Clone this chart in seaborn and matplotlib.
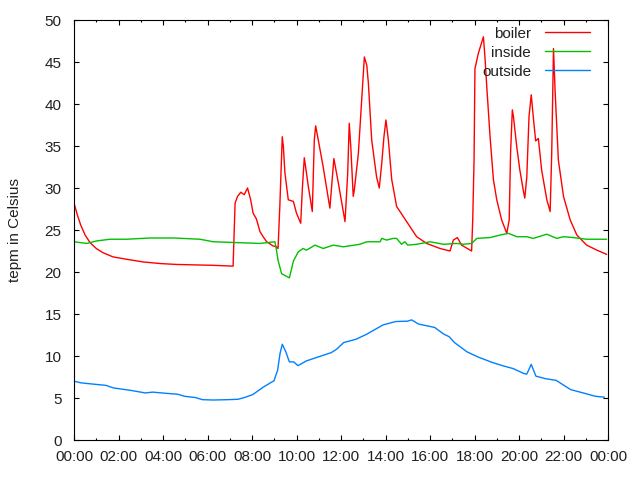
import numpy as np
import pandas as pd
import matplotlib
matplotlib.use("Agg")
import matplotlib.pyplot as plt
import seaborn as sns

# ---- data (hours of day, temperature in Celsius) ----
boiler_h = [0.0, 0.15, 0.3, 0.5, 0.72, 1.0, 1.3, 1.75, 2.4, 3.1, 3.9, 4.6, 5.35, 6.2, 7.15,
            7.24, 7.35, 7.5, 7.65, 7.8, 7.94, 8.05, 8.2, 8.36, 8.5, 8.66, 8.95, 9.1, 9.17,
            9.25, 9.36, 9.41, 9.48, 9.63, 9.86, 10.0, 10.19, 10.26, 10.35, 10.41, 10.53,
            10.71, 10.8, 10.86, 10.98, 11.2, 11.5, 11.68, 11.88, 12.18, 12.3, 12.37, 12.44,
            12.55, 12.6, 12.78, 12.93, 13.05, 13.16, 13.23, 13.38, 13.6, 13.72, 13.83, 13.93,
            14.02, 14.13, 14.28, 14.5, 14.95, 15.4, 15.85, 16.45, 16.9, 17.05, 17.23, 17.42,
            17.87, 17.92, 17.98, 18.02, 18.17, 18.4, 18.47, 18.55, 18.7, 18.85, 19.0, 19.22,
            19.45, 19.56, 19.62, 19.7, 19.75, 19.9, 20.04, 20.2, 20.26, 20.35, 20.45, 20.55,
            20.64, 20.75, 20.87, 21.02, 21.25, 21.4, 21.47, 21.55, 21.62, 21.77, 22.0, 22.3,
            22.6, 23.04, 23.5, 23.94]
boiler_t = [28.2, 26.8, 25.6, 24.4, 23.5, 22.8, 22.3, 21.8, 21.5, 21.2, 21.0, 20.9, 20.85, 20.8, 20.7,
            28.2, 29.0, 29.5, 29.2, 30.0, 28.6, 27.0, 26.3, 24.8, 24.2, 23.6, 23.1, 23.0, 22.8,
            27.8, 36.1, 34.9, 31.8, 28.6, 28.4, 27.0, 25.8, 29.8, 33.6, 32.5, 30.2,
            27.2, 35.7, 37.4, 35.7, 32.5, 27.6, 33.5, 30.6, 26.0, 31.7, 37.7, 34.9,
            29.0, 29.8, 34.1, 40.5, 45.6, 44.6, 42.5, 35.7, 31.3, 30.0, 32.9, 36.1,
            38.1, 35.7, 31.0, 27.8, 26.0, 24.2, 23.4, 22.8, 22.5, 23.8, 24.1, 23.2,
            22.5, 26.2, 33.3, 44.2, 46.0, 48.0, 45.6, 42.1, 36.1, 31.0, 28.6, 26.2,
            24.6, 26.2, 34.1, 39.3, 38.5, 34.9, 32.1, 29.6, 28.8, 31.3, 38.5, 41.1,
            38.5, 35.6, 35.9, 32.1, 28.6, 27.2, 34.1, 46.6, 41.7, 33.3, 29.0, 26.2,
            24.4, 23.2, 22.6, 22.1]

inside_h = [0.0, 0.57, 1.02, 1.62, 2.37, 3.42, 4.46, 5.66, 6.26, 7.31, 8.36, 9.03, 9.1, 9.17,
            9.33, 9.68, 9.86, 10.08, 10.3, 10.45, 10.83, 11.2, 11.65, 12.1, 12.85, 13.16,
            13.76, 13.83, 14.05, 14.35, 14.5, 14.72, 14.87, 15.0, 15.4, 16.0, 16.6, 17.2,
            17.5, 17.87, 18.1, 18.7, 19.15, 19.52, 19.9, 20.35, 20.64, 21.25, 21.7, 22.0,
            22.44, 23.04, 23.94]
inside_t = [23.6, 23.4, 23.7, 23.9, 23.9, 24.05, 24.05, 23.9, 23.6, 23.5, 23.4, 23.6, 22.6, 21.4,
            19.8, 19.3, 21.3, 22.4, 22.8, 22.6, 23.2, 22.8, 23.2, 23.0, 23.3, 23.6,
            23.6, 24.0, 23.8, 24.0, 24.0, 23.3, 23.6, 23.2, 23.3, 23.6, 23.3, 23.4,
            23.3, 23.4, 24.0, 24.1, 24.4, 24.6, 24.2, 24.2, 24.0, 24.5, 24.0, 24.2,
            24.1, 23.9, 23.9]

outside_h = [0.0, 0.32, 0.8, 1.44, 1.77, 2.57, 3.21, 3.53, 4.17, 4.66, 4.98, 5.46, 5.78, 6.26,
             6.9, 7.38, 7.71, 8.03, 8.51, 8.99, 9.15, 9.26, 9.36, 9.52, 9.68, 9.87, 10.07,
             10.43, 10.92, 11.56, 11.8, 12.12, 12.68, 13.16, 13.49, 13.89, 14.45, 15.0, 15.17,
             15.49, 16.21, 16.62, 16.86, 17.1, 17.66, 18.14, 18.78, 19.26, 19.74, 20.23,
             20.35, 20.55, 20.76, 21.19, 21.67, 22.32, 22.96, 23.44, 23.84]
outside_t = [7.0, 6.8, 6.67, 6.5, 6.2, 5.9, 5.6, 5.7, 5.55, 5.45, 5.2, 5.05, 4.8, 4.76,
             4.8, 4.85, 5.1, 5.4, 6.3, 7.06, 8.3, 10.3, 11.4, 10.5, 9.3, 9.3, 8.85,
             9.4, 9.84, 10.4, 10.8, 11.6, 12.0, 12.6, 13.1, 13.7, 14.1, 14.15, 14.3,
             13.8, 13.4, 12.6, 12.3, 11.6, 10.5, 9.9, 9.25, 8.85, 8.5, 7.9,
             7.85, 9.0, 7.6, 7.3, 7.1, 6.0, 5.55, 5.2, 5.1]

x_ticks = list(range(0, 25, 2))
x_tick_labels = ["00:00", "02:00", "04:00", "06:00", "08:00", "10:00", "12:00",
                 "14:00", "16:00", "18:00", "20:00", "22:00", "00:00"]
y_ticks = list(range(0, 51, 5))
series_names = ["boiler", "inside", "outside"]
series_colors = ["#ff0000", "#00c000", "#0080ff"]

# ---- plot ----
sns.set_style("ticks")
plt.rcParams["font.family"] = ["Liberation Sans", "DejaVu Sans"]
plt.rcParams["font.size"] = 11

fig = plt.figure(figsize=(6.4, 4.8), dpi=100)
ax = fig.add_axes([74 / 640, 40 / 480, 534 / 640, 420 / 480])

data = [(boiler_h, boiler_t), (inside_h, inside_t), (outside_h, outside_t)]
for (hh, tt), name, col in zip(data, series_names, series_colors):
    df = pd.DataFrame({"hour": hh, "temp": tt})
    sns.lineplot(data=df, x="hour", y="temp", ax=ax, color=col, linewidth=1.0,
                 label=name, estimator=None, sort=False)

ax.set_xlim(0, 24)
ax.set_ylim(0, 50)
ax.set_xticks(x_ticks)
ax.set_xticklabels(x_tick_labels)
ax.set_xticks(list(range(1, 24, 2)), minor=True)
ax.set_yticks(y_ticks)
ax.set_xlabel("")
ax.set_ylabel("tepm in Celsius", fontsize=11, color="#202020", labelpad=16)

for s in ax.spines.values():
    s.set_visible(True)
    s.set_linewidth(0.8)
    s.set_color("black")

ax.tick_params(which="major", direction="in", length=3.4, width=0.8, top=True, right=True,
               labelsize=11, labelcolor="#202020", color="black")
ax.tick_params(which="minor", direction="in", length=1.7, width=0.8, top=True, right=False,
               left=False, color="black")
ax.tick_params(axis="y", pad=9)
ax.tick_params(axis="x", pad=7)

leg = ax.legend(loc="upper right", bbox_to_anchor=(597.5 / 640, 1 - 19 / 480),
                bbox_transform=fig.transFigure, frameon=False, markerfirst=False,
                handlelength=2.95, handletextpad=0.9, labelspacing=0.33, borderpad=0,
                fontsize=11)
for t in leg.get_texts():
    t.set_color("#202020")

fig.savefig("out.png", dpi=100)
